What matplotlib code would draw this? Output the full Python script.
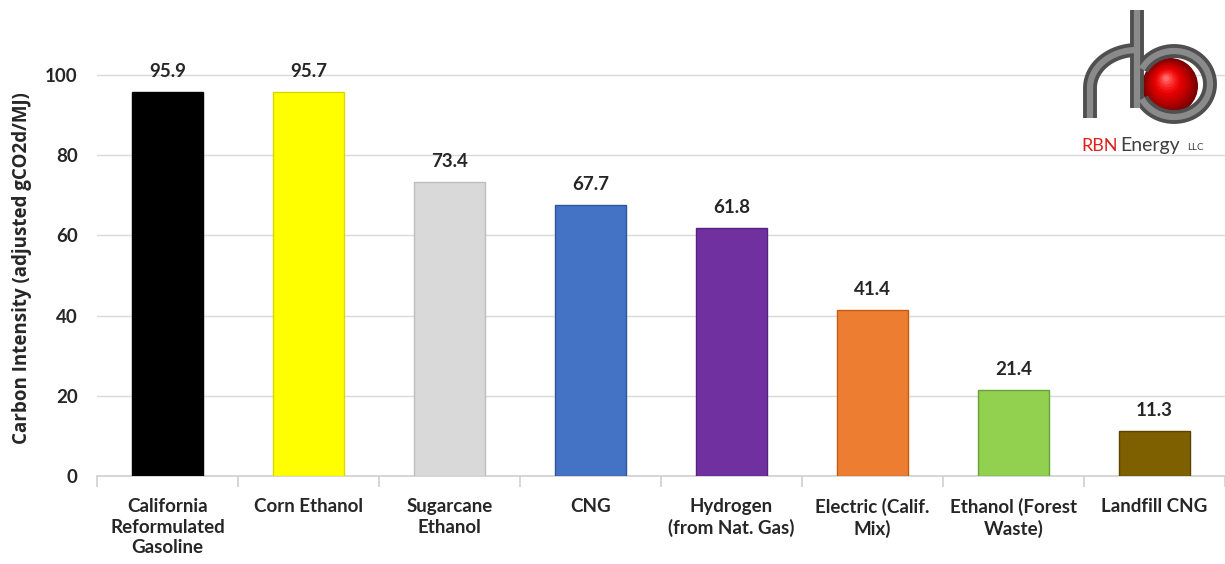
import matplotlib

matplotlib.use("Agg")

import matplotlib.pyplot as plt
import numpy as np
from matplotlib.patches import Circle

plt.rcParams["font.family"] = ["Lato", "DejaVu Sans"]

fuels = [
    "California\nReformulated\nGasoline",
    "Corn Ethanol",
    "Sugarcane\nEthanol",
    "CNG",
    "Hydrogen\n(from Nat. Gas)",
    "Electric (Calif.\nMix)",
    "Ethanol (Forest\nWaste)",
    "Landfill CNG",
]
intensity = [95.9, 95.7, 73.4, 67.7, 61.8, 41.4, 21.4, 11.3]
bar_colors = ["#000000", "#ffff00", "#d9d9d9", "#4472c4", "#7030a0", "#ed7d31", "#92d050", "#7f6000"]
edge_colors = ["#000000", "#d8d800", "#bdbdbd", "#2f5597", "#542280", "#c55a11", "#6a9f3a", "#5a4400"]
y_ticks = [0, 20, 40, 60, 80, 100]

W, H = 1225, 564
fig = plt.figure(figsize=(W / 100, H / 100), dpi=100)
ax = fig.add_axes([97 / W, 1 - 476 / H, 1 - 97 / W, (476 - 35) / H])

x = np.arange(len(fuels))
ax.bar(x, intensity, width=0.51, color=bar_colors, edgecolor=edge_colors, linewidth=1.0, zorder=3)
for xi, v in zip(x, intensity):
    ax.text(xi, v + 3.0, f"{v:.1f}", ha="center", va="bottom", fontsize=13.5,
            fontweight="bold", color="#262626")

ax.set_xlim(-0.5, -0.5 + (W - 97) / 142)
ax.set_ylim(0, 110)
ax.set_yticks(y_ticks)
ax.set_yticklabels([str(t) for t in y_ticks], fontsize=13.5, fontweight="bold", color="#262626")
ax.tick_params(axis="y", length=0, pad=14)

ax.set_xticks(x)
ax.set_xticklabels(fuels, fontsize=13.5, fontweight="bold", color="#262626", linespacing=1.25)
ax.tick_params(axis="x", length=0, pad=16)
ax.set_xticks(np.arange(len(fuels) + 1) - 0.5, minor=True)
ax.tick_params(axis="x", which="minor", length=8, color="#d0d0d0", width=1.2)

ax.grid(axis="y", color="#d9d9d9", linewidth=1.0, zorder=0)
for side in ["top", "right", "left"]:
    ax.spines[side].set_visible(False)
ax.spines["bottom"].set_color("#d0d0d0")
ax.spines["bottom"].set_linewidth(1.2)

fig.text(22 / W, 1 - 268 / H, "Carbon Intensity (adjusted gCO2d/MJ)", rotation=90,
         ha="center", va="center", fontsize=13.5, fontweight="bold", color="#262626",
         family=["Open Sans", "DejaVu Sans"])

# company logo drawn in its own pixel-space axes
lg = fig.add_axes([1075 / W, 1 - 165 / H, 145 / W, 160 / H])
lg.set_xlim(1075, 1220)
lg.set_ylim(165, 5)
lg.axis("off")

shades = ["#7a0000", "#8c0000", "#a00000", "#b30000", "#c40000", "#d40000",
          "#e30000", "#ee0a0a", "#f51a1a", "#fa3030", "#ff4a4a", "#ff6a6a"]
for r, c in zip(np.linspace(28, 3, len(shades)), shades):
    lg.add_patch(Circle((1170 - (28 - r) * 0.15, 86 - (28 - r) * 0.3), r, color=c, lw=0, zorder=1))

t = np.linspace(-np.pi * 0.85, np.pi * 0.85, 80)
bowl_x = 1174 + 36 * np.cos(t)
bowl_y = 84 + 33 * np.sin(t)
a = np.linspace(np.pi, np.pi * 1.5, 40)
arm_x = np.r_[1090, 1090 + 47 * (1 + np.cos(a))]
arm_y = np.r_[118, 88 + 38 * np.sin(a)]
for lw, col in [(10.0, "#4f4f4f"), (4.5, "#8a8a8a")]:
    lg.plot([1137, 1137], [10, 108], color=col, lw=lw, solid_capstyle="butt", zorder=2)
    lg.plot(bowl_x, bowl_y, color=col, lw=lw, solid_capstyle="butt", zorder=2)
    lg.plot(arm_x, arm_y, color=col, lw=lw, solid_capstyle="butt", zorder=2)

fig.text(1081 / W, 1 - 146 / H, "RBN", fontsize=13, color="#e0201c", va="center", ha="left")
fig.text(1120 / W, 1 - 146 / H, "Energy", fontsize=14, color="#404040", va="center", ha="left")
fig.text(1187 / W, 1 - 148 / H, "LLC", fontsize=7, color="#404040", va="center", ha="left")

fig.savefig("out.png", dpi=100)
